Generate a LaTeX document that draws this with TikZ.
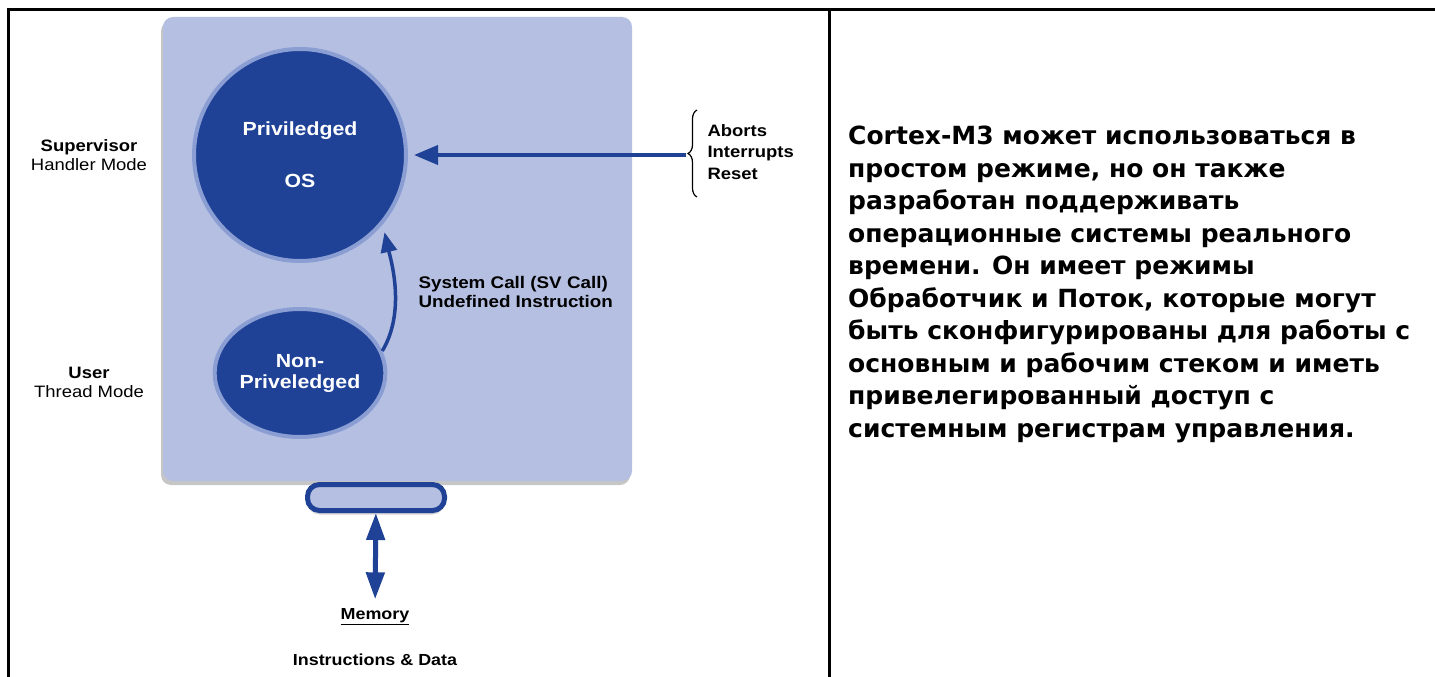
\documentclass[tikz,border=0pt]{standalone}
\usepackage{fontspec}
\setmainfont[FakeStretch=1.12]{Liberation Sans}
\newfontfamily\rusfont{DejaVu Sans}
\usetikzlibrary{positioning,shapes.geometric,shadows,arrows.meta,decorations.pathreplacing}

\definecolor{panelblue}{RGB}{181,191,225}
\definecolor{darkblue}{RGB}{31,66,151}
\definecolor{haloblue}{RGB}{138,158,212}

\tikzset{
  panel/.style={fill=panelblue, rounded corners=10pt, inner sep=0pt,
                drop shadow={shadow xshift=-2pt, shadow yshift=-4pt, opacity=.45}},
  mode/.style={fill=darkblue, draw=haloblue, line width=4pt, text=white, inner sep=0pt,
               align=center, font=\bfseries\fontsize{19}{26}\selectfont},
  bus/.style={fill=panelblue, draw=darkblue, line width=5pt, rounded corners=12pt,
              minimum width=137pt, minimum height=26pt,
              drop shadow={shadow xshift=0pt, shadow yshift=-4pt, opacity=.35}},
  side/.style={align=center, font=\fontsize{16.5}{20}\selectfont},
  note/.style={align=left, font=\bfseries\fontsize{16.5}{20}\selectfont},
  flow/.style={draw=darkblue, line width=4pt, -{Triangle[length=24pt,width=19pt]}},
  brace/.style={decorate, decoration={brace, amplitude=9pt}, line width=1.2pt},
}

\begin{document}
\begin{tikzpicture}[x=1pt,y=1pt]
  \useasboundingbox (0,0) rectangle (1435,-677);
  % table lines
  \draw[line width=3pt] (8,-677) -- (8,-10) -- (1435,-10)
                        (829,-10) -- (829,-677);

  % the core
  \node[panel, minimum width=469pt, minimum height=464pt] (chip) at (397.5,-249) {};
  \node[mode, circle, minimum size=212pt] (os) at (300,-155) {Priviledged\\[26pt]OS};
  \node[mode, ellipse, minimum width=170pt, minimum height=128pt] (user) at (300,-373)
       {Non-\\[-5pt]Priveledged};
  \node[bus] (bus) at (376,-497.5) {};

  \foreach \name/\y/\upper/\lower in {sup/155/Supervisor/Handler Mode,usr/382/User/Thread Mode}
    \node[side] (\name) at (89,-\y) {\textbf{\upper}\\[-1pt]\lower};

  % exceptions
  \draw[brace] (697,-197) -- (697,-110);
  \coordinate (irq) at (686,-155);
  \node[note, anchor=west, font=\bfseries\fontsize{16.5}{21.5}\selectfont] (exc) at (704,-152)
       {Aborts\\Interrupts\\Reset};

  \node[note, anchor=west, font=\bfseries\fontsize{16.8}{20}\selectfont] (svc) at (415,-292)
       {System Call (SV Call)\\[-1pt]Undefined Instruction};

  % memory
  \node[note, font=\bfseries\fontsize{16}{20}\selectfont] (mem) at (375,-617) {\underline{Memory}};
  \node[note, font=\bfseries\fontsize{16}{20}\selectfont, below=22pt of mem] (data) {Instructions \& Data};

  \path (irq) edge[flow, shorten >=6pt] (os)
        (bus) edge[flow, line width=5pt, {Triangle[length=27pt,width=18pt]}-{Triangle[length=27pt,width=18pt]},
                   shorten >=6pt] (mem);
  \draw[flow, line width=3.5pt, -{Triangle[length=20pt,width=16pt]}, shorten >=8pt]
    (user.15) .. controls +(24,40) and +(8,-35) .. (os.-40);

  % description
  \node[anchor=north west, align=left, inner sep=0pt,
        font=\rusfont\bfseries\fontsize{25}{32.5}\selectfont] (txt) at (848,-126)
   {Cortex-M3 может использоваться в\\
    простом режиме, но он также\\
    разработан поддерживать\\
    операционные системы реального\\
    времени. Он имеет режимы\\
    Обработчик и Поток, которые могут\\
    быть сконфигурированы для работы с\\
    основным и рабочим стеком и иметь\\
    привелегированный доступ с\\
    системным регистрам управления.};
\end{tikzpicture}
\end{document}
